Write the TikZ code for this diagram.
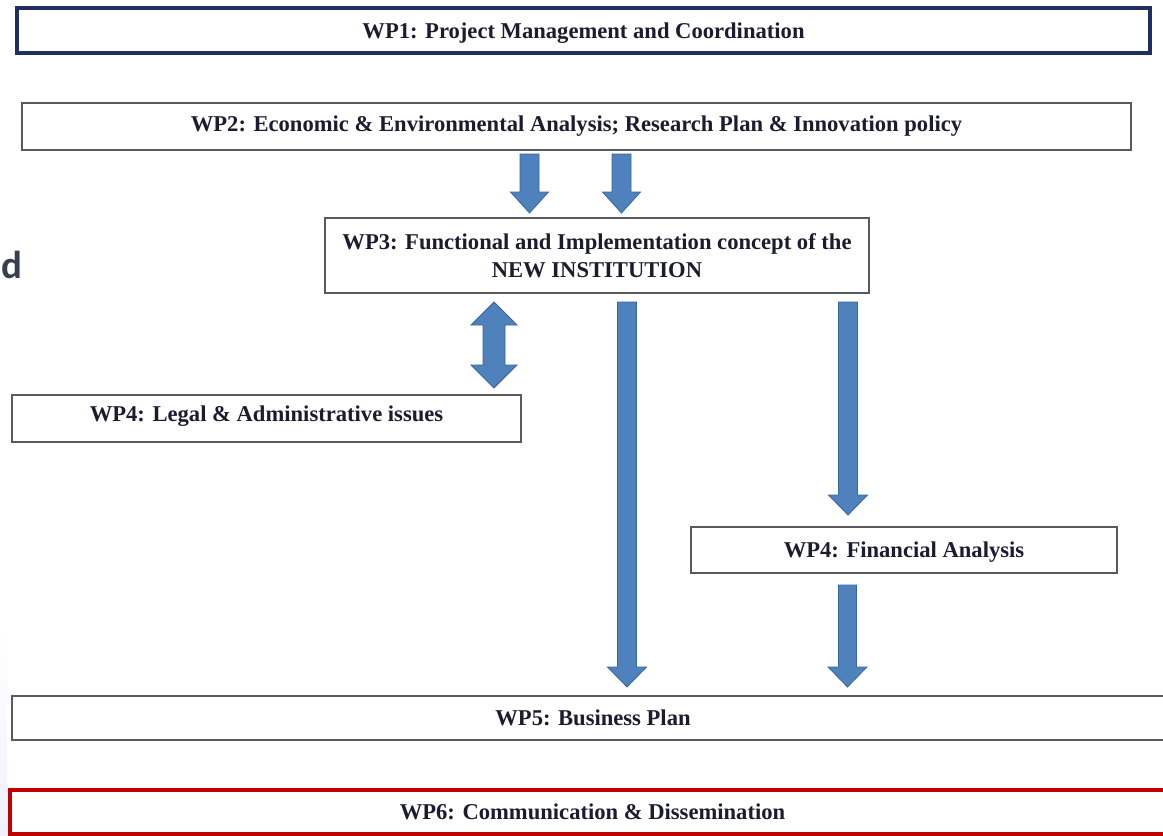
\documentclass[tikz,border=0pt]{standalone}
\usepackage{fontspec}
\setmainfont{Liberation Serif}
\newfontfamily\slidefont{Carlito}
\definecolor{navyline}{HTML}{1F2F5F}
\definecolor{redline}{HTML}{C00000}
\definecolor{greyline}{HTML}{5A5A5A}
\definecolor{arrowfill}{HTML}{4F81BD}
\definecolor{arrowedge}{HTML}{3A66A0}
\definecolor{labelink}{HTML}{1C1C30}
\definecolor{slideink}{HTML}{3A3F50}
\tikzset{
  wpbox/.style={draw=greyline, line width=1.6pt, fill=white, inner sep=0pt,
    font=\bfseries\fontsize{22.6}{28}\selectfont, text=labelink, align=center},
  wpnavy/.style={wpbox, draw=navyline, line width=4pt},
  wpred/.style={wpbox, draw=redline, line width=4pt},
  blockarrow/.style={fill=arrowfill, draw=arrowedge, line width=0.8pt, line join=miter}
}
% downward block arrow: centre x, top, base of head, tip, shaft half width, head half width
\newcommand\wpdown[6]{%
  \draw[blockarrow] (#1-#5,#2) -- (#1+#5,#2) -- (#1+#5,#3) -- (#1+#6,#3) -- (#1,#4)
    -- (#1-#6,#3) -- (#1-#5,#3) -- cycle;}
% double-headed vertical block arrow: centre x, top tip, upper head base, lower head base, bottom tip, shaft hw, head hw
\newcommand\wpboth[7]{%
  \draw[blockarrow] (#1,#2) -- (#1+#7,#3) -- (#1+#6,#3) -- (#1+#6,#4) -- (#1+#7,#4) -- (#1,#5)
    -- (#1-#7,#4) -- (#1-#6,#4) -- (#1-#6,#3) -- (#1-#7,#3) -- cycle;}
\begin{document}
\begin{tikzpicture}[x=1pt,y=-1pt]
\useasboundingbox (0,0) rectangle (1163,836);
\clip (0,0) rectangle (1163,836);
\fill[white] (0,0) rectangle (1163,836);
% faint edge of the neighbouring slide panel
\shade[top color=white, bottom color=blue!6] (0,630) rectangle (7,836);

% fragment of slide text at the left margin
\node[anchor=base east, font=\slidefont\bfseries\fontsize{39}{39}\selectfont, text=slideink, inner sep=0pt] (frag) at (23,278) {d};

% work packages
\node[wpnavy, minimum width=1133pt, minimum height=45pt, text depth=0pt] (wp1) at (583.5,30.5) {WP1: Project Management and Coordination};
\node[wpbox, minimum width=1109pt, minimum height=47pt] (wp2) at (576.5,126.5) {WP2: Economic \& Environmental Analysis; Research Plan \& Innovation policy};
\node[wpbox, minimum width=544pt, minimum height=75pt] (wp3) at (597,255.5) {WP3: Functional and Implementation concept of the\\NEW INSTITUTION};
\node[wpbox, minimum width=509pt, minimum height=47pt, text depth=9pt] (wp4l) at (266.5,418.5) {WP4: Legal \& Administrative issues};
\node[wpbox, minimum width=426pt, minimum height=46pt, text depth=0pt] (wp4f) at (904,550) {WP4: Financial Analysis};
\node[wpbox, minimum width=1162pt, minimum height=44pt, text depth=0pt] (wp5) at (593,718) {WP5: Business Plan};
\node[wpred, minimum width=1165pt, minimum height=44pt] (wp6) at (592.5,812) {WP6: Communication \& Dissemination};

% block arrows between the work packages
\wpdown{529.5}{154}{192}{213}{9.5}{19}
\wpdown{621.5}{154}{192}{213}{9.5}{19}
\wpboth{494}{302}{325}{365}{388}{11}{23}
\wpdown{627}{302}{667}{687}{9.5}{19.5}
\wpdown{848}{302}{495}{515}{9.5}{19.5}
\wpdown{847.5}{585}{667}{687}{9}{19.5}
\end{tikzpicture}
\end{document}
